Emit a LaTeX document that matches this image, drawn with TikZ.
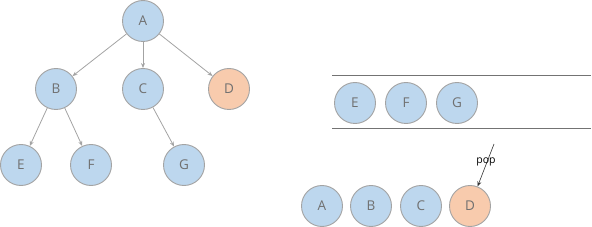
\documentclass[tikz,border=0pt]{standalone}
\usepackage{fontspec}
\setmainfont{Open Sans}
\usetikzlibrary{arrows.meta,positioning}
\definecolor{nodeblue}{HTML}{BDD7EE}
\definecolor{nodeorange}{HTML}{F8CBAD}
\definecolor{rimgray}{HTML}{A3A3A3}
\definecolor{textgray}{HTML}{707070}
\begin{document}
\begin{tikzpicture}[x=1pt,y=-1pt,
  vert/.style={circle,draw=rimgray,line width=0.9pt,fill=nodeblue,
    minimum size=41pt,inner sep=0pt,text=textgray,font=\fontsize{13.5}{13.5}\selectfont},
  popped/.style={vert,fill=nodeorange},
  tedge/.style={draw=rimgray,line width=0.8pt,-{Stealth[length=5pt,width=4pt]}}]
\useasboundingbox (0,0) rectangle (592,227);
% tree
\node[vert] (A) at (143,21) {A};
\node[vert] (B) at (56,89) {B};
\node[vert] (C) at (143,89) {C};
\node[popped] (D) at (229,89) {D};
\node[vert] (E) at (21,165) {E};
\node[vert] (F) at (91,165) {F};
\node[vert] (G) at (184,165) {G};
\draw[tedge] (A) -- (B);
\draw[tedge] (A) -- (C);
\draw[tedge] (A) -- (D);
\draw[tedge] (B) -- (E);
\draw[tedge] (B) -- (F);
\draw[tedge] (C) -- (G);
% queue
\coordinate (qtl) at (332,76);
\coordinate (qtr) at (591,76);
\coordinate (qbl) at (332,129);
\coordinate (qbr) at (591,129);
\draw[black!55,line width=1pt] (qtl) -- (qtr);
\draw[black!55,line width=1pt] (qbl) -- (qbr);
\node[vert] (qE) at (355,103) {E};
\node[vert] (qF) at (406,103) {F};
\node[vert] (qG) at (457,103) {G};
% visited
\node[vert] (vA) at (322,206) {A};
\node[vert] (vB) at (371,206) {B};
\node[vert] (vC) at (421,206) {C};
\node[popped] (vD) at (470,206) {D};
\coordinate (popstart) at (494,144);
\draw[black!80,line width=0.6pt,-{Stealth[length=5pt,width=4pt]}] (popstart) -- (vD);
\node[font=\fontsize{10.5}{10.5}\selectfont] (poplabel) at (486,162) {pop};
\end{tikzpicture}
\end{document}
